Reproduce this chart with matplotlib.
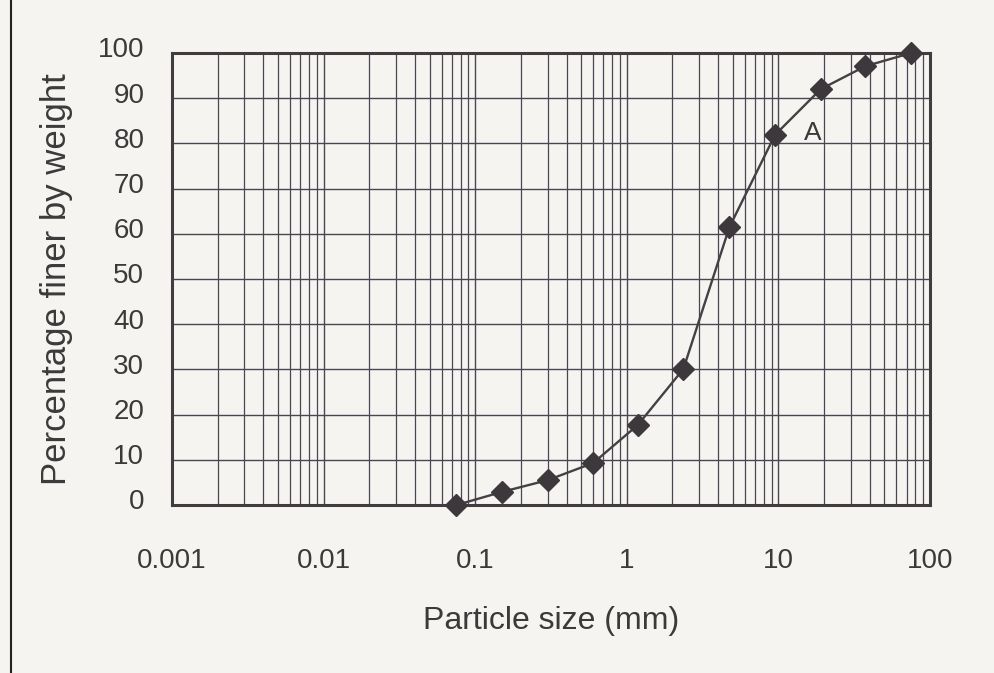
import numpy as np
import matplotlib.pyplot as plt
import matplotlib.transforms as mtransforms
from matplotlib.ticker import LogLocator, FixedLocator, NullFormatter, FixedFormatter

# sieve sizes (mm) and percentage passing
size_mm = [0.075, 0.15, 0.3, 0.6, 1.18, 2.36, 4.75, 9.5, 19, 37.5, 75]
finer = [0, 2.9, 5.5, 9.3, 17.7, 30.1, 61.5, 81.9, 92, 97.1, 100]

xtick_vals = [0.001, 0.01, 0.1, 1, 10, 100]
xtick_text = ["0.001", "0.01", "0.1", "1", "10", "100"]
ytick_vals = list(range(0, 101, 10))

plt.rcParams["font.family"] = ["Liberation Sans", "DejaVu Sans"]

fig = plt.figure(figsize=(9.95, 6.73), dpi=100)
fig.patch.set_facecolor("#f6f4f1")
ax = fig.add_axes([0.173, 0.2496, 0.7617, 0.6716])
ax.set_facecolor("#f6f4f1")

ax.set_xscale("log")
ax.set_xlim(0.001, 100)
ax.set_ylim(0, 100)

ax.xaxis.set_major_locator(FixedLocator(xtick_vals))
ax.xaxis.set_major_formatter(FixedFormatter(xtick_text))
ax.xaxis.set_minor_locator(LogLocator(base=10, subs=np.arange(2, 10)))
ax.xaxis.set_minor_formatter(NullFormatter())
ax.yaxis.set_major_locator(FixedLocator(ytick_vals))

ax.grid(True, which="major", axis="both", color="#4a4550", lw=1.0)
ax.grid(True, which="minor", axis="x", color="#4a4550", lw=0.9)
ax.set_axisbelow(True)

for s in ax.spines.values():
    s.set_color("#403c40")
    s.set_linewidth(2.2)

ax.tick_params(axis="both", which="both", length=0, labelsize=20, colors="#3a3a3a")
ax.tick_params(axis="x", pad=31)
ax.tick_params(axis="y", pad=20)

# y labels in the scan sit a little above their grid lines
shift = mtransforms.ScaledTranslation(0, 4 / 72, fig.dpi_scale_trans)
for lab in ax.get_yticklabels():
    lab.set_transform(lab.get_transform() + shift)

ax.plot(size_mm, finer, color="#444044", lw=1.7, marker="D", markersize=11,
        markerfacecolor="#3c383c", markeredgecolor="#3c383c", clip_on=False, zorder=5)

ax.text(16.8, 82.3, "A", fontsize=19, color="#3a3a3a", ha="center", va="center")

ax.set_xlabel("Particle size (mm)", fontsize=23, color="#3a3a3a", labelpad=23)
ax.set_ylabel("Percentage finer by weight", fontsize=25, color="#3a3a3a", labelpad=18)

# page edge line from the scan
fig.add_artist(plt.Line2D([0.011, 0.011], [0, 1], transform=fig.transFigure, color="#222222", lw=1.5))

fig.savefig("out.png", dpi=100, facecolor=fig.get_facecolor())
